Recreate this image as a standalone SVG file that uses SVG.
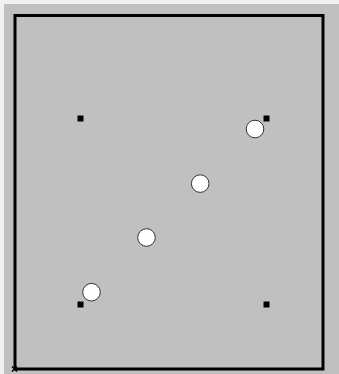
<svg xmlns="http://www.w3.org/2000/svg" width="339" height="374" viewBox="0 0 339 374">
<style>
.sq{fill:#000}
.pt{fill:#fff;stroke:#333;stroke-width:1}
</style>
<rect x="0" y="0" width="339" height="374" fill="#f2f2f2"/>
<rect x="4" y="4" width="335" height="370" fill="#c0c0c0"/>
<g id="frame">
<rect x="15" y="15.5" width="308" height="353.5" fill="none" stroke="#000" stroke-width="3"/>
<path d="M12,366.5 L17,371.5 M17,366.5 L12,371.5" stroke="#000" stroke-width="1.5"/>
</g>
<g id="corners">
<rect class="sq" x="77.5" y="115.5" width="6" height="6"/>
<rect class="sq" x="263.5" y="115.5" width="6" height="6"/>
<rect class="sq" x="77.5" y="301.5" width="6" height="6"/>
<rect class="sq" x="263.5" y="301.5" width="6" height="6"/>
</g>
<g id="points">
<circle class="pt" cx="91.5" cy="292.2" r="8.8"/>
<circle class="pt" cx="146.5" cy="237.5" r="8.8"/>
<circle class="pt" cx="200.2" cy="183.6" r="8.8"/>
<circle class="pt" cx="255" cy="129" r="8.8"/>
</g>
</svg>
